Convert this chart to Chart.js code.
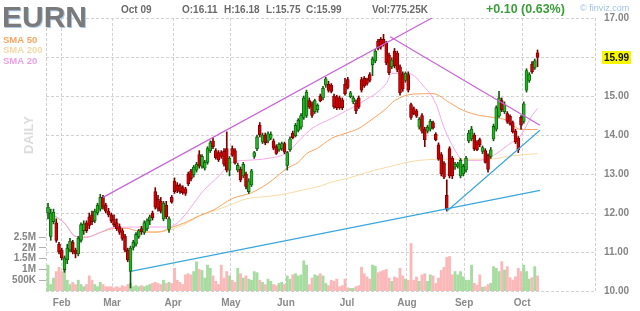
<!DOCTYPE html>
<html>
<head>
<meta charset="utf-8">
<script src="https://cdn.jsdelivr.net/npm/chart.js@4.4.1/dist/chart.umd.min.js"></script>
<style>
  html, body { margin: 0; padding: 0; background: #fff; }
  canvas { display: block; }
</style>
</head>
<body>
<canvas id="eurn" width="640" height="311" style="width:640px;height:311px"></canvas>
<script>
// EURN daily, late Jan .. Oct 09 (bar index = trading day)
const opens = [12.00,11.40,11.78,11.75,11.20,11.05,10.55,10.80,11.05,11.25,11.05,10.95,11.30,11.55,11.75,11.90,11.95,11.80,12.00,12.10,
  12.40,12.20,12.05,11.95,11.85,11.75,11.65,11.55,11.40,11.05,10.50,11.12,11.20,11.40,11.60,11.50,11.60,11.80,12.00,12.55,
  12.35,12.30,11.85,12.20,11.58,12.40,12.82,12.72,12.70,12.65,12.62,13.00,13.08,12.98,13.10,13.50,13.20,13.15,13.30,13.60,
  13.85,13.60,13.55,13.55,13.58,13.65,13.10,13.65,13.60,13.10,13.12,12.95,13.00,12.55,12.72,13.45,13.65,14.25,13.82,14.00,
  13.85,13.92,13.85,13.70,13.62,13.65,13.78,13.22,13.62,14.05,13.98,14.12,14.20,14.45,14.50,14.88,14.80,14.60,14.65,15.00,
  14.95,15.28,15.30,15.28,15.00,14.98,14.95,14.90,15.30,15.42,14.98,14.85,14.82,14.95,15.42,15.45,15.42,15.55,15.80,15.90,
  16.40,16.45,16.45,16.35,16.05,15.75,16.15,16.10,15.75,15.55,15.40,15.55,14.78,14.68,14.62,14.20,14.50,14.15,14.10,14.15,
  14.32,14.02,13.75,13.50,13.28,12.45,13.65,13.40,13.18,13.20,12.95,13.00,13.10,13.85,13.90,14.00,13.82,13.88,13.58,13.60,
  13.48,13.45,13.90,14.15,14.48,14.88,14.60,14.55,14.48,14.32,14.10,13.92,14.45,14.35,15.15,15.40,15.82,15.72,16.11];
const highs = [12.25,12.10,12.10,11.85,11.25,11.10,10.90,11.20,11.35,11.30,11.10,11.40,11.75,11.80,11.80,12.00,12.05,12.10,12.25,12.48,
  12.45,12.25,12.12,12.00,11.95,11.85,11.72,11.60,11.45,11.10,11.15,11.30,11.50,11.58,11.66,11.80,11.85,11.95,12.05,12.65,
  12.45,12.40,12.30,12.30,11.90,12.45,12.90,12.78,12.75,12.70,12.66,13.05,13.12,13.22,13.30,13.60,13.50,13.35,13.70,13.85,
  13.93,13.65,13.60,13.60,13.65,14.08,13.45,13.72,13.65,13.28,13.18,13.30,13.05,12.88,13.12,13.58,14.00,14.32,14.05,14.05,
  14.08,14.08,13.90,13.75,13.80,13.82,13.82,13.58,13.95,14.10,14.30,14.42,14.55,15.00,15.15,14.95,14.85,14.92,14.80,15.05,
  15.25,15.48,15.38,15.32,15.05,15.02,15.00,14.95,15.45,15.48,15.12,15.00,14.90,15.00,15.48,15.50,15.46,15.60,16.00,16.20,
  16.45,16.50,16.58,16.40,16.10,15.98,16.22,16.15,15.80,15.62,15.62,15.62,14.82,14.72,14.66,14.45,14.55,14.20,14.25,14.40,
  14.36,14.06,13.80,13.55,13.32,12.85,13.70,13.45,13.30,13.30,13.40,13.25,13.45,14.12,14.22,14.05,13.86,13.92,13.72,13.65,
  13.52,13.68,14.28,14.75,15.12,14.95,14.85,14.60,14.52,14.36,14.15,13.96,14.50,14.85,15.70,15.60,15.88,15.95,16.18];
const lows = [11.85,11.30,11.72,11.25,10.95,10.80,10.48,10.70,11.00,10.95,10.85,10.90,11.25,11.45,11.50,11.60,11.70,11.75,11.95,12.05,
  12.10,12.00,11.90,11.75,11.65,11.55,11.45,11.30,11.00,10.75,10.08,11.05,11.15,11.35,11.45,11.45,11.55,11.70,11.82,12.10,
  12.05,12.00,11.80,11.85,11.50,12.25,12.50,12.52,12.50,12.48,12.45,12.70,12.82,12.92,13.05,13.15,13.15,13.10,13.25,13.55,
  13.65,13.38,13.32,13.40,13.20,13.05,12.95,13.45,13.25,13.05,12.80,12.90,12.62,12.50,12.68,13.40,13.60,13.95,13.78,13.75,
  13.80,13.88,13.62,13.50,13.58,13.60,13.52,13.10,13.58,13.90,13.95,14.08,14.15,14.40,14.45,14.68,14.45,14.55,14.58,14.85,
  14.90,15.22,15.10,15.08,14.68,14.65,14.66,14.65,15.02,15.18,14.95,14.80,14.55,14.68,15.10,15.22,15.28,15.36,15.52,15.85,
  16.18,16.20,16.28,15.80,15.55,15.70,15.72,15.62,15.02,15.12,15.35,15.10,14.40,14.52,14.45,14.15,14.05,13.70,14.05,14.10,
  14.15,13.85,13.35,12.95,12.88,12.05,12.90,12.88,13.12,13.15,12.90,12.95,13.05,13.80,13.85,13.60,13.60,13.70,13.52,13.28,
  13.05,13.40,13.85,14.10,14.45,14.60,14.55,14.30,14.25,14.05,13.78,13.55,14.15,14.30,15.10,15.35,15.58,15.68,15.75];
const closes = [12.15,12.00,12.02,11.30,11.00,10.85,10.85,11.10,11.28,11.00,10.95,11.35,11.70,11.72,11.55,11.68,11.78,12.05,12.20,12.40,
  12.15,12.05,11.95,11.80,11.70,11.60,11.50,11.35,11.05,10.80,11.10,11.25,11.45,11.55,11.52,11.75,11.80,11.90,11.88,12.15,
  12.12,12.05,12.25,11.90,11.85,12.28,12.55,12.58,12.55,12.52,12.50,12.75,12.88,13.18,13.25,13.20,13.45,13.30,13.65,13.80,
  13.70,13.42,13.36,13.45,13.25,13.10,13.40,13.48,13.28,13.22,12.85,13.25,12.68,12.82,13.08,13.55,13.95,14.00,14.00,13.80,
  14.03,14.02,13.66,13.53,13.76,13.78,13.56,13.55,13.90,13.93,14.25,14.38,14.50,14.95,15.10,14.72,14.50,14.88,14.76,14.88,
  15.20,15.44,15.14,15.12,14.72,14.70,14.70,14.70,15.06,15.22,15.08,14.95,14.62,14.72,15.15,15.26,15.32,15.40,15.95,16.15,
  16.22,16.25,16.32,15.85,15.60,15.92,15.78,15.68,15.08,15.18,15.58,15.15,14.45,14.55,14.48,14.40,14.10,13.88,14.20,14.35,
  14.18,13.88,13.38,13.00,12.92,12.10,12.95,12.95,13.25,13.26,13.35,13.20,13.40,14.05,14.15,13.65,13.62,13.75,13.68,13.30,
  13.12,13.62,14.22,14.70,14.95,14.65,14.78,14.35,14.28,14.08,13.82,13.62,14.25,14.80,15.65,15.55,15.62,15.90,15.99];
// volume, millions of shares
const volumes = [1.2,0.3,0.6,0.9,1.1,0.9,1.0,0.5,0.3,0.4,0.3,0.5,0.3,0.2,0.3,0.7,0.5,0.3,0.2,0.4,0.3,0.2,0.2,
  0.2,0.15,0.2,0.15,0.25,0.2,0.3,0.35,
  0.2,0.25,0.2,0.25,0.2,0.25,0.3,0.35,0.4,0.35,0.3,0.5,0.35,0.4,
  0.35,1.05,0.5,0.4,0.3,0.75,0.8,0.75,0.9,1.35,1.0,0.95,0.6,1.2,1.05,0.7,0.45,0.3,1.2,0.6,0.9,
  0.7,0.5,0.4,1.05,0.8,0.6,0.7,0.55,0.5,0.9,0.85,0.5,0.4,0.3,0.55,0.45,0.3,0.25,0.35,0.4,0.3,
  0.7,0.55,0.75,0.8,0.7,0.75,1.4,1.2,0.3,0.6,0.75,0.7,0.8,0.7,0.35,0.25,0.5,0.45,0.55,0.2,0.25,
  0.55,0.15,0.12,0.12,0.2,0.25,1.1,0.8,0.65,0.55,1.2,1.15,0.85,0.9,0.95,1.0,0.6,0.45,0.65,0.6,1.05,0.7,0.55,
  0.5,2.2,0.5,0.65,0.45,0.75,0.8,0.45,0.75,0.7,0.35,0.6,0.95,1.1,1.55,1.6,0.75,0.9,0.75,0.9,0.66,0.5,0.5,1.2,
  0.36,0.28,0.75,0.18,0.2,0.3,0.36,1.13,1.05,0.9,1.36,0.97,1.13,0.62,0.51,0.66,1.05,0.9,1.2,0.9,0.55,0.62,1.13,0.7];

// moving averages and drawn trend lines, [bar index, price]
const sma50 = [[0,12.00],[2,11.94],[6,11.74],[10,11.40],[14,11.38],[19,11.50],[23,11.59],[28,11.61],[34,11.52],[40,11.51],
  [45,11.63],[50,11.76],[55,11.93],[60,12.07],[67,12.37],[74,12.52],[80,12.76],[87,13.15],[91,13.30],[94,13.52],[98,13.66],
  [103,13.91],[108,14.04],[113,14.17],[117,14.36],[123,14.68],[126,14.88],[133,15.05],[140,15.06],[146,14.83],[151,14.63],
  [157,14.50],[162,14.45],[167,14.37],[170,14.20],[172,14.14],[178,14.14]];
const sma200 = [[36,11.51],[41,11.52],[49,11.69],[56,11.95],[61,12.07],[66,12.20],[72,12.36],[79,12.42],[85,12.47],[92,12.58],
  [99,12.69],[103,12.79],[109,12.89],[115,13.02],[123,13.17],[135,13.35],[147,13.38],[160,13.38],[169,13.47],[178,13.52]];
const sma20 = [[0,12.00],[2,11.94],[6,11.74],[10,11.40],[14,11.38],[19,11.50],[23,11.62],[34,11.64],[43,11.64],[47,11.74],
  [52,12.15],[56,12.53],[62,12.94],[67,13.30],[72,13.35],[80,13.40],[87,13.55],[92,13.91],[96,14.17],[103,14.42],[110,14.68],
  [115,14.88],[123,15.32],[125,15.58],[131,15.58],[137,15.22],[141,14.81],[144,14.19],[148,13.61],[151,13.35],[157,13.35],
  [162,13.48],[167,13.73],[172,14.00],[176,14.50],[178,14.68]];
const channelTop = [[20,12.40],[139.6,17.00]];
const wedgeTop = [[124.4,16.52],[178.9,14.25]];
const supportLong = [[30.5,10.51],[178.9,12.58]];
const supportShort = [[145.1,12.05],[178.9,14.12]];

const monthTicks = [5, 23.3, 45.5, 66.5, 86.5, 108.7, 130.5, 151.3, 172.4];
const monthLabels = ['Feb', 'Mar', 'Apr', 'May', 'Jun', 'Jul', 'Aug', 'Sep', 'Oct'];
const volTicks = [0.5, 1, 1.5, 2, 2.5];

const FONT = 'Arial, "Liberation Sans", sans-serif';
const up = closes.map((c, i) => c >= opens[i]);
const pts = (a) => a.map(([x, y]) => ({ x, y }));

function lineSet(data, color, width, order, smooth) {
  return {
    type: 'line', data: pts(data), borderColor: color, borderWidth: width,
    pointRadius: 0, fill: false, order,
    tension: smooth ? 0.4 : 0, cubicInterpolationMode: smooth ? 'monotone' : 'default'
  };
}

const overlay = {
  id: 'overlay',
  beforeDatasetsDraw(chart) {
    const { ctx, chartArea: a } = chart;
    ctx.save();
    ctx.strokeStyle = '#cfcfcf';
    ctx.lineWidth = 1;
    ctx.setLineDash([3, 2]);
    [a.left, a.right].forEach((x) => {
      ctx.beginPath();
      ctx.moveTo(Math.round(x) + 0.5, a.top);
      ctx.lineTo(Math.round(x) + 0.5, a.bottom);
      ctx.stroke();
    });
    ctx.restore();
  },
  afterDraw(chart) {
    const ctx = chart.ctx;
    ctx.save();
    ctx.textBaseline = 'alphabetic';
    // ticker
    ctx.font = 'bold 30px ' + FONT;
    ctx.fillStyle = '#a9c9ea';
    ctx.fillText('EURN', 3, 28);
    ctx.fillStyle = '#7a7a7a';
    ctx.fillText('EURN', 2, 27);
    // quote line
    ctx.font = 'bold 10px ' + FONT;
    ctx.fillStyle = '#6a6a6a';
    ctx.fillText('Oct 09', 121, 13);
    ctx.fillText('O:16.11', 182, 13);
    ctx.fillText('H:16.18', 224, 13);
    ctx.fillText('L:15.75', 266, 13);
    ctx.fillText('C:15.99', 306, 13);
    ctx.fillText('Vol:775.25K', 372, 13);
    ctx.font = 'bold 12.5px ' + FONT;
    ctx.fillStyle = '#3a9e3a';
    ctx.fillText('+0.10 (0.63%)', 486, 13);
    ctx.font = '9px ' + FONT;
    ctx.fillStyle = '#9fc2e2';
    ctx.fillText('\u00a9 finviz.com', 580, 11);
    // legend
    ctx.font = 'bold 9.5px ' + FONT;
    ctx.fillStyle = '#f7a462';
    ctx.fillText('SMA 50', 3, 43);
    ctx.fillStyle = '#f1d8a8';
    ctx.fillText('SMA 200', 3, 53);
    ctx.fillStyle = '#ee9fe3';
    ctx.fillText('SMA 20', 3, 64);
    // period label
    ctx.save();
    ctx.translate(29, 135);
    ctx.rotate(-Math.PI / 2);
    ctx.font = 'bold 13px ' + FONT;
    ctx.fillStyle = '#dcdcdc';
    ctx.textAlign = 'center';
    ctx.textBaseline = 'middle';
    ctx.fillText('DAILY', 0, 0);
    ctx.restore();
    // last price tag
    const last = closes[closes.length - 1];
    const y = chart.scales.y.getPixelForValue(last);
    ctx.fillStyle = '#f7f700';
    ctx.fillRect(602, Math.round(y) - 6, 29, 13);
    ctx.font = 'bold 10px ' + FONT;
    ctx.fillStyle = '#111';
    ctx.textBaseline = 'middle';
    ctx.fillText(last.toFixed(2), 604, y + 0.5);
    ctx.restore();
  }
};

new Chart(document.getElementById('eurn').getContext('2d'), {
  type: 'bar',
  data: {
    datasets: [
      lineSet(channelTop, '#c963d9', 1.2, 1, false),
      lineSet(wedgeTop, '#c963d9', 1.2, 1, false),
      lineSet(supportLong, '#3aa7de', 1.2, 1, false),
      lineSet(supportShort, '#3aa7de', 1.2, 1, false),
      {
        type: 'bar', order: 3, grouped: false, barThickness: 3,
        data: closes.map((c, i) => ({ x: i, y: [opens[i], c] })),
        backgroundColor: up.map((u) => (u ? '#22b422' : '#d10000')),
        borderColor: up.map((u) => (u ? '#0b560b' : '#6e0000')),
        borderWidth: 0.8,
        borderSkipped: false
      },
      {
        type: 'bar', order: 4, grouped: false, barThickness: 1,
        data: closes.map((c, i) => ({ x: i, y: [lows[i], highs[i]] })),
        backgroundColor: up.map((u) => (u ? '#0c5e0c' : '#7a0000')),
        borderWidth: 0
      },
      lineSet(sma20, '#f3a8ec', 1, 6, true),
      lineSet(sma50, '#f9a25f', 1, 7, true),
      lineSet(sma200, '#f6dba6', 1, 8, true),
      {
        type: 'bar', order: 10, grouped: false, barThickness: 2.2, yAxisID: 'yv',
        data: volumes.map((v, i) => ({ x: i, y: v })),
        backgroundColor: up.map((u) => (u ? '#a6dca0' : '#fbb8b8')),
        borderWidth: 0
      }
    ]
  },
  options: {
    responsive: false,
    animation: false,
    events: [],
    layout: { padding: { top: 18, left: 0, right: 0, bottom: 0 } },
    plugins: { legend: { display: false }, tooltip: { enabled: false } },
    scales: {
      x: {
        type: 'linear', min: -0.73, max: 198.9, offset: false,
        grid: { color: '#d2d2d2', drawTicks: false, offset: false },
        border: { display: false, dash: [3, 2] },
        afterBuildTicks: (s) => { s.ticks = monthTicks.map((v) => ({ value: v })); },
        afterFit: (s) => { s.height = 20; },
        ticks: {
          autoSkip: false, maxRotation: 0, padding: 6, color: '#8a8a8a',
          font: { family: FONT, size: 10, weight: 'bold' },
          callback: (v) => monthLabels[monthTicks.indexOf(v)]
        }
      },
      y: {
        position: 'right', min: 10, max: 17,
        grid: { color: '#d2d2d2', drawTicks: false },
        border: { display: false, dash: [3, 2] },
        afterFit: (s) => { s.width = 45; },
        ticks: {
          stepSize: 1, padding: 9, color: '#858585',
          font: { family: FONT, size: 10, weight: 'bold' },
          callback: (v) => v.toFixed(2)
        }
      },
      yv: {
        position: 'left', min: 0, max: 12.64,
        grid: { drawOnChartArea: false, drawTicks: true, tickLength: 7, tickColor: '#b0b0b0' },
        border: { display: false },
        afterBuildTicks: (s) => { s.ticks = volTicks.map((v) => ({ value: v })); },
        afterFit: (s) => { s.width = 46; },
        ticks: {
          padding: 3, color: '#858585',
          font: { family: FONT, size: 10, weight: 'bold' },
          callback: (v) => (v >= 1 ? v + 'M' : Math.round(v * 1000) + 'K')
        }
      }
    }
  },
  plugins: [overlay]
});
</script>
</body>
</html>
